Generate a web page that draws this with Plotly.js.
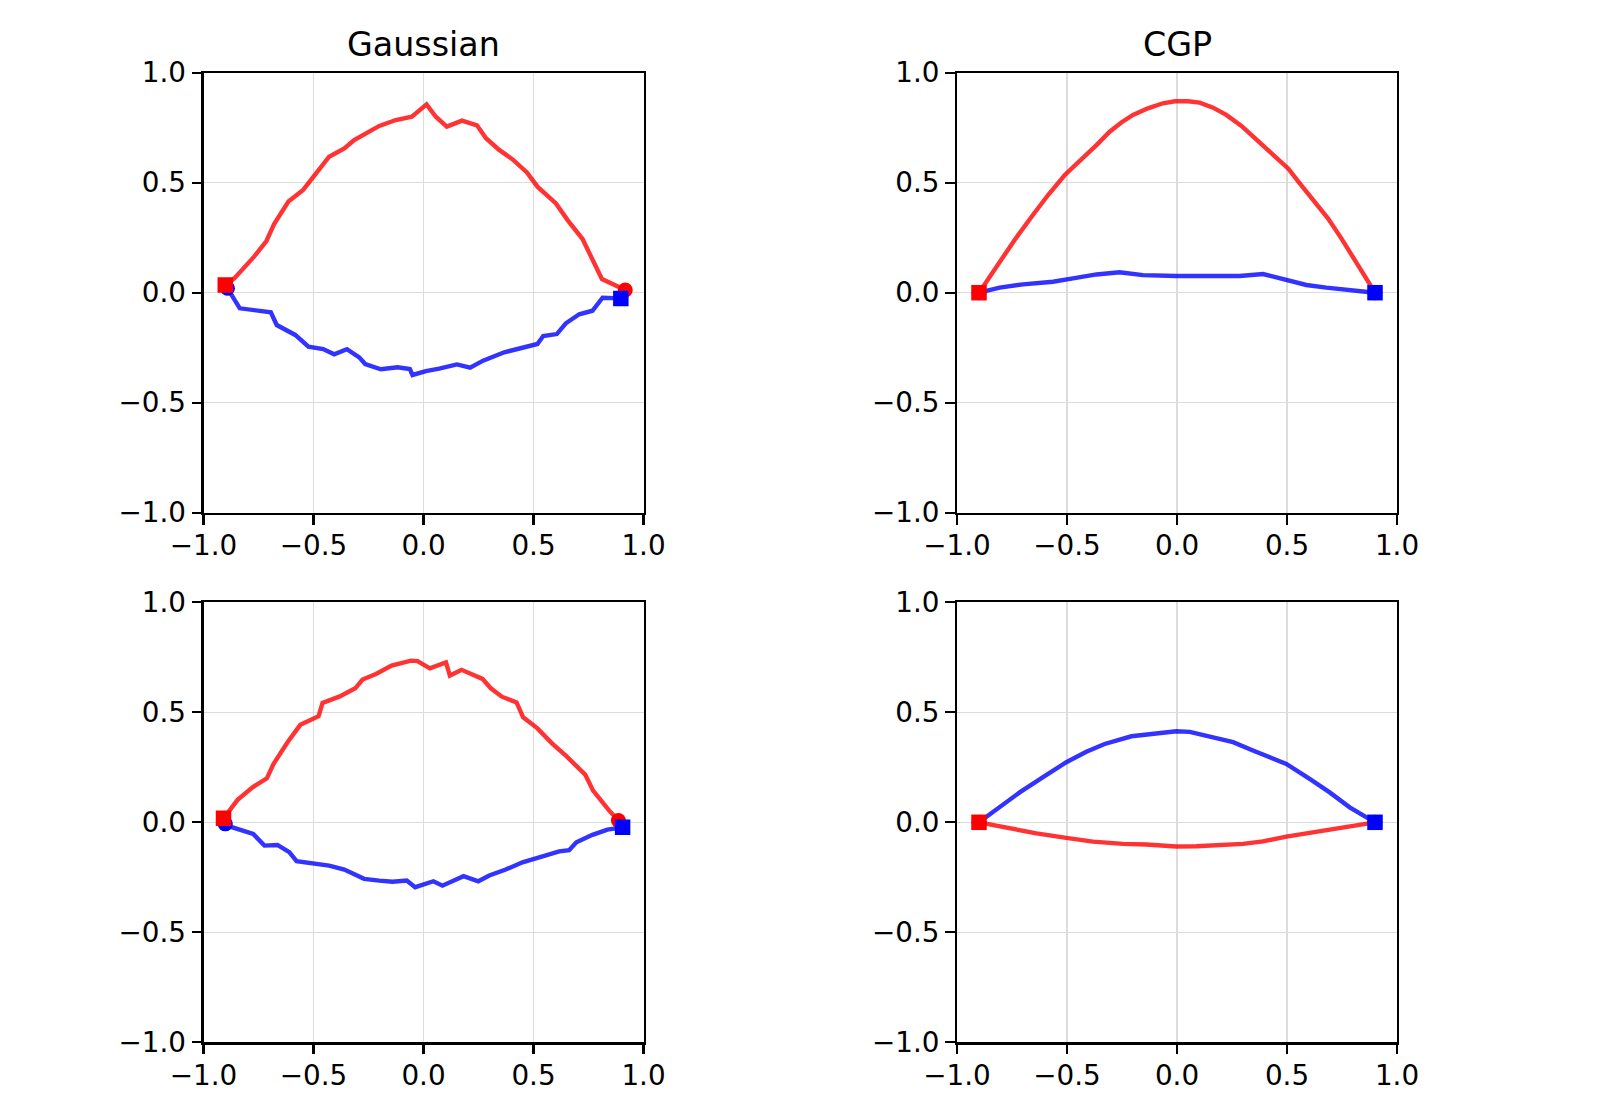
<!DOCTYPE html>
<html>
<head>
<meta charset="utf-8">
<script src="https://cdn.plot.ly/plotly-3.0.1.min.js"></script>
<style>html,body{margin:0;padding:0;background:#fff;}#chart{width:1600px;height:1120px;}</style>
</head>
<body>
<div id="chart"></div>
<script>
// ---------- data ----------
const panelTitles = ["Gaussian", "CGP"];
const tickValues = [-1, -0.5, 0, 0.5, 1];
const tickLabels = ["\u22121.0", "\u22120.5", "0.0", "0.5", "1.0"];

// top-left: Gaussian, run 1
const gaussTopRedX = [-0.901,-0.860,-0.770,-0.714,-0.679,-0.614,-0.547,-0.429,-0.360,-0.315,-0.201,-0.126,-0.053,0.014,0.056,0.106,0.175,0.243,0.284,0.344,0.405,0.470,0.518,0.602,0.655,0.723,0.811,0.917];
const gaussTopRedY = [0.035,0.065,0.164,0.235,0.312,0.414,0.467,0.618,0.656,0.694,0.758,0.785,0.800,0.856,0.800,0.755,0.782,0.761,0.702,0.649,0.606,0.547,0.482,0.406,0.330,0.244,0.062,0.012];
const gaussTopBlueX = [-0.891,-0.835,-0.694,-0.667,-0.583,-0.523,-0.456,-0.406,-0.348,-0.292,-0.265,-0.194,-0.118,-0.062,-0.050,0.011,0.071,0.152,0.212,0.271,0.367,0.450,0.518,0.544,0.606,0.647,0.708,0.768,0.814,0.897];
const gaussTopBlueY = [0.020,-0.071,-0.089,-0.147,-0.192,-0.245,-0.256,-0.280,-0.257,-0.294,-0.324,-0.348,-0.339,-0.347,-0.374,-0.356,-0.345,-0.326,-0.341,-0.309,-0.271,-0.250,-0.233,-0.197,-0.188,-0.139,-0.098,-0.082,-0.023,-0.026];

// top-right: CGP, run 1
const cgpTopRedX = [-0.900,-0.821,-0.738,-0.655,-0.586,-0.510,-0.427,-0.366,-0.306,-0.253,-0.200,-0.132,-0.064,-0.010,0.050,0.103,0.164,0.224,0.293,0.361,0.452,0.505,0.558,0.618,0.686,0.747,0.808,0.861,0.900];
const cgpTopRedY = [0.000,0.118,0.240,0.353,0.444,0.535,0.611,0.671,0.732,0.774,0.808,0.838,0.861,0.870,0.870,0.864,0.841,0.808,0.758,0.697,0.618,0.565,0.497,0.421,0.338,0.247,0.149,0.058,0.000];
const cgpTopBlueX = [-0.900,-0.806,-0.700,-0.564,-0.473,-0.366,-0.261,-0.155,-0.003,0.164,0.285,0.391,0.482,0.588,0.679,0.800,0.900];
const cgpTopBlueY = [0.000,0.023,0.038,0.050,0.065,0.083,0.093,0.080,0.076,0.076,0.076,0.085,0.062,0.035,0.023,0.009,0.000];

// bottom-left: Gaussian, run 2
const gaussBotRedX = [-0.909,-0.845,-0.777,-0.712,-0.682,-0.618,-0.560,-0.477,-0.459,-0.383,-0.310,-0.277,-0.216,-0.145,-0.057,-0.027,0.029,0.102,0.120,0.173,0.268,0.306,0.356,0.423,0.453,0.518,0.584,0.647,0.735,0.771,0.844,0.886];
const gaussBotRedY = [0.018,0.102,0.159,0.200,0.265,0.364,0.443,0.482,0.543,0.571,0.609,0.649,0.674,0.712,0.735,0.733,0.700,0.727,0.667,0.693,0.652,0.609,0.571,0.545,0.477,0.427,0.359,0.303,0.217,0.144,0.053,0.008];
const gaussBotBlueX = [-0.901,-0.868,-0.774,-0.723,-0.664,-0.610,-0.577,-0.505,-0.429,-0.360,-0.270,-0.201,-0.141,-0.076,-0.038,0.045,0.086,0.182,0.249,0.299,0.371,0.450,0.534,0.617,0.662,0.695,0.768,0.836,0.905];
const gaussBotBlueY = [-0.007,-0.023,-0.053,-0.106,-0.103,-0.136,-0.177,-0.185,-0.197,-0.215,-0.257,-0.265,-0.270,-0.265,-0.295,-0.268,-0.288,-0.245,-0.268,-0.242,-0.216,-0.182,-0.155,-0.132,-0.127,-0.091,-0.057,-0.033,-0.023];

// bottom-right: CGP, run 2
const cgpBotRedX = [-0.900,-0.791,-0.639,-0.503,-0.382,-0.245,-0.139,-0.003,0.088,0.300,0.391,0.497,0.618,0.770,0.900];
const cgpBotRedY = [0.000,-0.023,-0.050,-0.071,-0.088,-0.098,-0.101,-0.110,-0.109,-0.098,-0.087,-0.065,-0.045,-0.023,0.000];
const cgpBotBlueX = [-0.900,-0.814,-0.715,-0.609,-0.503,-0.412,-0.329,-0.207,-0.094,-0.003,0.058,0.149,0.255,0.345,0.497,0.603,0.694,0.785,0.900];
const cgpBotBlueY = [0.000,0.061,0.136,0.205,0.273,0.321,0.356,0.391,0.406,0.414,0.411,0.390,0.364,0.326,0.265,0.197,0.136,0.068,0.000];

// ---------- styling ----------
const RED_LINE = "rgba(255,0,0,0.8)";
const BLUE_LINE = "rgba(0,0,255,0.8)";
const FONT = "DejaVu Sans, sans-serif";
const W = 1600, H = 1120;

const panels = [
  {xa: "x",  ya: "y",  rx: gaussTopRedX, ry: gaussTopRedY, bx: gaussTopBlueX, by: gaussTopBlueY},
  {xa: "x2", ya: "y2", rx: cgpTopRedX,   ry: cgpTopRedY,   bx: cgpTopBlueX,   by: cgpTopBlueY},
  {xa: "x3", ya: "y3", rx: gaussBotRedX, ry: gaussBotRedY, bx: gaussBotBlueX, by: gaussBotBlueY},
  {xa: "x4", ya: "y4", rx: cgpBotRedX,   ry: cgpBotRedY,   bx: cgpBotBlueX,   by: cgpBotBlueY}
];

const traces = [];
const first = a => [a[0]];
const last = a => [a[a.length - 1]];
panels.forEach(p => {
  traces.push({x: p.rx, y: p.ry, xaxis: p.xa, yaxis: p.ya, mode: "lines", line: {color: RED_LINE, width: 4.4}, hoverinfo: "skip"});
  traces.push({x: p.bx, y: p.by, xaxis: p.xa, yaxis: p.ya, mode: "lines", line: {color: BLUE_LINE, width: 4.4}, hoverinfo: "skip"});
  // circles (blue start, red end)
  traces.push({x: first(p.bx), y: first(p.by), xaxis: p.xa, yaxis: p.ya, mode: "markers", marker: {symbol: "circle", size: 15, color: "blue"}, hoverinfo: "skip"});
  traces.push({x: last(p.rx), y: last(p.ry), xaxis: p.xa, yaxis: p.ya, mode: "markers", marker: {symbol: "circle", size: 15, color: "red"}, hoverinfo: "skip"});
  // squares (red start, blue end)
  traces.push({x: first(p.rx), y: first(p.ry), xaxis: p.xa, yaxis: p.ya, mode: "markers", marker: {symbol: "square", size: 15.5, color: "red"}, hoverinfo: "skip"});
  traces.push({x: last(p.bx), y: last(p.by), xaxis: p.xa, yaxis: p.ya, mode: "markers", marker: {symbol: "square", size: 15.5, color: "blue"}, hoverinfo: "skip"});
});

// axes pixel boxes
const colX = [[203.5, 643.5], [957, 1397]];
const rowY = [[72.7, 512.7], [602.3, 1042.3]];

function axisCommon(domain, anchor) {
  return {
    domain: domain, anchor: anchor, range: [-1, 1], autorange: false,
    tickmode: "array", tickvals: tickValues, ticktext: tickLabels,
    ticks: "outside", ticklen: 9.7, tickwidth: 2.2, tickcolor: "#000",
    showline: true, mirror: true, linecolor: "#000", linewidth: 2.2,
    showgrid: true, gridcolor: "#dcdcdc", gridwidth: 1.1, zeroline: false,
    tickfont: {family: FONT, size: 27.8, color: "#000"},
    fixedrange: true
  };
}
const layout = {
  width: W, height: H, margin: {l: 0, r: 0, t: 0, b: 0},
  paper_bgcolor: "#fff", plot_bgcolor: "#fff", showlegend: false,
  font: {family: FONT, color: "#000"},
  annotations: []
};
const names = [["", ""], ["2", "2"], ["3", "3"], ["4", "4"]];
const pos = [[0, 0], [1, 0], [0, 1], [1, 1]];
pos.forEach((cr, i) => {
  const [c, r] = cr;
  const xd = [colX[c][0] / W, colX[c][1] / W];
  const yd = [(H - rowY[r][1]) / H, (H - rowY[r][0]) / H];
  const sfx = names[i][0];
  layout["xaxis" + sfx] = Object.assign(axisCommon(xd, "y" + sfx), {ticklabelstandoff: -3});
  layout["yaxis" + sfx] = Object.assign(axisCommon(yd, "x" + sfx), {ticklabelstandoff: 0});
});
panelTitles.forEach((t, c) => {
  layout.annotations.push({
    text: t, xref: "paper", yref: "paper", showarrow: false,
    x: (colX[c][0] + colX[c][1]) / 2 / W, y: (H - 45) / H,
    xanchor: "center", yanchor: "middle",
    font: {family: FONT, size: 33.3, color: "#000"}
  });
});

Plotly.newPlot("chart", traces, layout, {staticPlot: true, displayModeBar: false});
</script>
</body>
</html>
